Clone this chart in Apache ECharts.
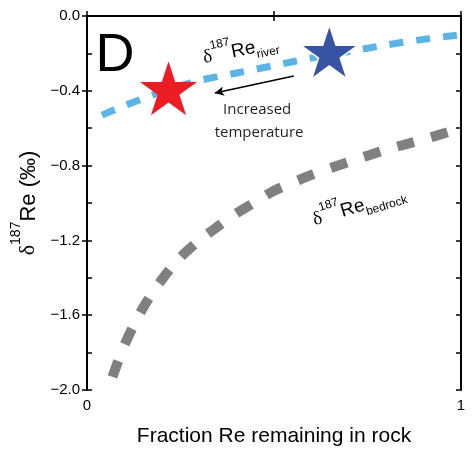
<!DOCTYPE html>
<html>
<head>
<meta charset="utf-8">
<script src="https://cdn.jsdelivr.net/npm/echarts@6/dist/echarts.min.js"></script>
<style>
  html, body { margin: 0; padding: 0; background: #fff; }
  #main { width: 473px; height: 454px; }
</style>
</head>
<body>
<div id="main"></div>
<script>
// 数据：河流 δ187Re 曲线
const riverX = [0.04, 0.1, 0.2, 0.3, 0.4, 0.5, 0.6, 0.7, 0.8, 0.9, 1.0];
const riverY = [-0.53, -0.48, -0.405, -0.345, -0.305, -0.265, -0.225, -0.19, -0.155, -0.125, -0.1];
// 基岩 δ187Re 曲线
const bedrockX = [0.068, 0.1, 0.15, 0.2, 0.25, 0.3, 0.35, 0.4, 0.45, 0.5, 0.6, 0.7, 0.8, 0.9, 1.0];
const bedrockY = [-1.93, -1.76, -1.56, -1.41, -1.29, -1.2, -1.125, -1.055, -0.995, -0.935, -0.85, -0.78, -0.715, -0.66, -0.6];
// 两颗星
const starBlue = [0.648, -0.191];
const starRed = [0.218, -0.387];
// 箭头 (高温方向)
const arrowFrom = [0.553, -0.321];
const arrowTo = [0.342, -0.412];
// 刻度
const xTicks = [0, 1];
const yTicks = [0, -0.4, -0.8, -1.2, -1.6, -2.0];

const starPath = 'path://M50 0 L61.23 34.55 L97.55 34.55 L68.16 55.9 L79.39 90.45 L50 69.1 L20.61 90.45 L31.84 55.9 L2.45 34.55 L38.77 34.55 Z';
const font = 'Liberation Sans, Arial, sans-serif';

function zip(xs, ys) {
  return xs.map((x, i) => [x, ys[i]]);
}
function fmtY(v) {
  if (!yTicks.some(t => Math.abs(t - v) < 1e-6)) return '';
  return Math.abs(v) < 1e-9 ? '0.0' : '\u2212' + Math.abs(v).toFixed(1);
}

const chartDom = document.getElementById('main');
const myChart = echarts.init(chartDom);

// 上下标用 rich text
const rich = {
  d: { fontFamily: 'Liberation Serif, serif', fontSize: 19, color: '#000', verticalAlign: 'bottom', lineHeight: 26 },
  sup: { fontFamily: font, fontSize: 12, color: '#000', verticalAlign: 'top', lineHeight: 26 },
  re: { fontFamily: font, fontSize: 19, color: '#000', verticalAlign: 'bottom', lineHeight: 26 },
  sub: { fontFamily: font, fontSize: 12, color: '#000', verticalAlign: 'bottom', lineHeight: 26, padding: [0, 0, -4, 0] }
};
const richAxis = {
  d: { fontFamily: 'Liberation Serif, serif', fontSize: 22, color: '#000', verticalAlign: 'bottom', lineHeight: 30 },
  sup: { fontFamily: font, fontSize: 14, color: '#000', verticalAlign: 'top', lineHeight: 30 },
  re: { fontFamily: font, fontSize: 22, color: '#000', verticalAlign: 'bottom', lineHeight: 30 }
};

const option = {
  animation: false,
  grid: { left: 87, right: 12, top: 16, bottom: 64 },
  xAxis: [
    {
      type: 'value', min: 0, max: 1, interval: 0.5, position: 'bottom',
      name: 'Fraction Re remaining in rock', nameLocation: 'middle', nameGap: 36,
      nameTextStyle: { fontFamily: font, fontSize: 21, color: '#000' },
      axisLine: { lineStyle: { color: '#000', width: 2 } },
      axisTick: { inside: true, length: 5, lineStyle: { color: '#000', width: 1.5 } },
      axisLabel: {
        fontFamily: font, fontSize: 15, color: '#000', margin: 8,
        formatter: v => (xTicks.indexOf(v) >= 0 ? String(v) : '')
      },
      splitLine: { show: false }
    },
    {
      type: 'value', min: 0, max: 1, interval: 0.5, position: 'top',
      axisLine: { lineStyle: { color: '#000', width: 2 } },
      axisTick: { inside: true, length: 5, lineStyle: { color: '#000', width: 1.5 } },
      axisLabel: { show: false },
      splitLine: { show: false }
    }
  ],
  yAxis: [
    {
      type: 'value', min: -2, max: 0, interval: 0.4, position: 'left',
      name: '{d|\u03b4}{sup|187}{re|Re (\u2030)}', nameLocation: 'middle', nameGap: 35, nameRotate: 90,
      nameTextStyle: { rich: richAxis },
      axisLine: { lineStyle: { color: '#000', width: 2 } },
      axisTick: { length: 5, lineStyle: { color: '#000', width: 1.5 } },
      axisLabel: { fontFamily: font, fontSize: 15, color: '#000', margin: 7, formatter: fmtY },
      splitLine: { show: false }
    },
    {
      type: 'value', min: -2, max: 0, interval: 0.2, position: 'left',
      axisLine: { show: false },
      axisTick: { inside: true, length: 5, lineStyle: { color: '#000', width: 1.5 } },
      axisLabel: { show: false },
      splitLine: { show: false }
    },
    {
      type: 'value', min: -2, max: 0, interval: 0.2, position: 'right',
      axisLine: { lineStyle: { color: '#000', width: 2 } },
      axisTick: { inside: true, length: 5, lineStyle: { color: '#000', width: 1.5 } },
      axisLabel: { show: false },
      splitLine: { show: false }
    }
  ],
  series: [
    {
      name: 'bedrock', type: 'line', data: zip(bedrockX, bedrockY),
      smooth: 0.3, symbol: 'none',
      lineStyle: { color: '#808080', width: 10, type: [17, 18], cap: 'butt' }
    },
    {
      name: 'river', type: 'line', data: zip(riverX, riverY),
      smooth: 0.3, symbol: 'none',
      lineStyle: { color: '#5ab4e6', width: 7, type: [14, 13], cap: 'butt' },
      markLine: {
        silent: true, symbol: ['none', 'arrow'], symbolSize: [7, 9],
        lineStyle: { color: '#000', width: 1.6, type: 'solid' },
        label: { show: false },
        data: [[{ coord: arrowFrom }, { coord: arrowTo }]]
      }
    },
    {
      name: 'stars', type: 'scatter', symbol: starPath,
      data: [
        { value: starRed, symbolSize: [57, 54], itemStyle: { color: '#ed1c24', opacity: 1 } },
        { value: starBlue, symbolSize: [57, 54], itemStyle: { color: '#3953a4', opacity: 1, borderColor: '#fff', borderWidth: 1.5 } }
      ],
      z: 5
    }
  ]
};

myChart.setOption(option);

// 文字注释：数据坐标 -> 像素
const notes = [
  { at: [0.075, -0.214], text: 'D', style: { fontFamily: font, fontSize: 54, fill: '#000' }, rot: 0 },
  { at: [0.409, -0.166], text: '{d|\u03b4}{sup|187}{re|Re}{sub|river}', rich: true, rot: 11.5 },
  { at: [0.725, -1.0], text: '{d|\u03b4}{sup|187}{re|Re}{sub|bedrock}', rich: true, rot: 17 },
  { at: [0.455, -0.503], text: 'Increased', style: { fontFamily: 'Open Sans, sans-serif', fontSize: 15, fill: '#231f20' }, rot: 0 },
  { at: [0.46, -0.626], text: 'temperature', style: { fontFamily: 'Open Sans, sans-serif', fontSize: 15, fill: '#231f20' }, rot: 0 }
];

const graphic = notes.map(n => {
  const p = myChart.convertToPixel({ gridIndex: 0 }, n.at);
  const style = n.rich
    ? { text: n.text, rich, align: 'center', verticalAlign: 'middle' }
    : Object.assign({ text: n.text, align: 'center', verticalAlign: 'middle' }, n.style);
  return {
    type: 'text', x: p[0], y: p[1], rotation: n.rot * Math.PI / 180, z: 10, style
  };
});
myChart.setOption({ graphic });
</script>
</body>
</html>
